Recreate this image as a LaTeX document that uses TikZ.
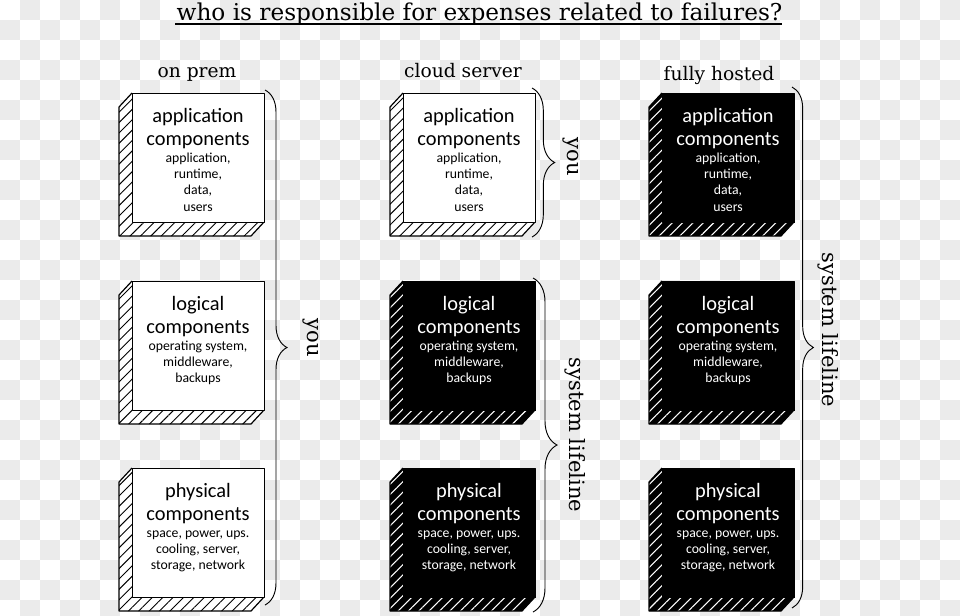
\documentclass[tikz,border=0pt]{standalone}
\usepackage{fontspec}
\newfontfamily\boxfont{Carlito}
\newfontfamily\handfont{DejaVu Serif}
\usetikzlibrary{patterns.meta,decorations.pathreplacing}
\definecolor{checker}{HTML}{EBEBEB}
\tikzset{
  outline/.style={draw=black, line width=0.9pt, line join=round},
  side light/.style={fill=white},
  side dark/.style={fill=black},
  hatch light/.style={pattern={Lines[angle=45,distance=5.5pt,line width=0.7pt]}, pattern color=black},
  hatch dark/.style={pattern={Lines[angle=45,distance=5.5pt,line width=0.8pt]}, pattern color=white},
  front light/.style={fill=white},
  front dark/.style={fill=black},
  txt light/.style={text=black},
  txt dark/.style={text=white},
  bigtxt/.style={font=\boxfont\fontsize{15.3}{18}\selectfont, inner sep=0pt, anchor=base},
  smalltxt/.style={font=\boxfont\fontsize{10.3}{12}\selectfont, inner sep=0pt, anchor=base},
  serifl/.style={font=\handfont\fontsize{14}{17}\selectfont, inner sep=0pt},
  seriftitle/.style={font=\handfont\fontsize{17.4}{20}\selectfont, inner sep=0pt},
  serifrot/.style={font=\handfont\fontsize{15.8}{19}\selectfont, inner sep=0pt, rotate=-90},
  bracestyle/.style={draw=black, line width=0.7pt, decorate, decoration={brace, amplitude=#1}},
}
\newcommand\compbox[6]{%
  \begin{scope}[shift={(#2,#3)}]
    \path[side #4] (0,0) -- (-13,14) -- (-13,143) -- (119,143) -- (132,129) -- (0,129) -- cycle;
    \path[hatch #4] (0,0) -- (-13,14) -- (-13,143) -- (119,143) -- (132,129) -- (0,129) -- cycle;
    \draw[outline] (0,0) -- (-13,14) -- (-13,143) -- (119,143) -- (132,129);
    \node[front #4, outline, minimum width=99pt, minimum height=96.75pt, inner sep=0pt, anchor=north west] (#1) at (0,0) {};
    \node[bigtxt, txt #4] (#1-h1) at (66,29) {#5};
    \node[bigtxt, txt #4] (#1-h2) at (66,52) {components};
    \foreach \t [count=\k] in {#6} {\node[smalltxt, txt #4] (#1-s\k) at (66,{69+16.4*(\k-1)}) {\t};}
  \end{scope}}
\begin{document}
\begin{tikzpicture}[x=0.75pt, y=-0.75pt]
  \useasboundingbox (0,0) rectangle (960,615);
  \begin{scope}
    \clip (0,0) rectangle (960,615);
    \fill[white] (0,0) rectangle (960,615);
    \foreach \i in {0,...,47}{\foreach \j in {0,...,30}{\ifodd\numexpr\i+\j\relax \fill[checker] (20*\i,20*\j) rectangle +(20,20);\fi}}
  \end{scope}

  % title
  \node[seriftitle, anchor=base] (title) at (479.5,20) {who is responsible for expenses related to failures?};
  \coordinate (ul1) at (175,24);
  \coordinate (ul2) at (782,24);
  \draw[line width=0.8pt] (ul1) -- (ul2);

  % column labels
  \node[serifl, anchor=base] (onprem) at (197,77) {on prem};
  \node[serifl, anchor=base] (cloud) at (463,77) {cloud server};
  \node[serifl, anchor=base] (hosted) at (719,80) {fully hosted};

  % column 1
  \compbox{a1}{132}{93}{light}{application}{{application,},{runtime,},{data,},users}
  \compbox{l1}{132}{281}{light}{logical}{{operating system,},{middleware,},backups}
  \compbox{p1}{132}{468}{light}{physical}{{space, power, ups.},{cooling, server,},{storage, network}}
  % column 2
  \compbox{a2}{403}{93}{light}{application}{{application,},{runtime,},{data,},users}
  \compbox{l2}{403}{281}{dark}{logical}{{operating system,},{middleware,},backups}
  \compbox{p2}{403}{468}{dark}{physical}{{space, power, ups.},{cooling, server,},{storage, network}}
  % column 3
  \compbox{a3}{662}{93}{dark}{application}{{application,},{runtime,},{data,},users}
  \compbox{l3}{662}{281}{dark}{logical}{{operating system,},{middleware,},backups}
  \compbox{p3}{662}{468}{dark}{physical}{{space, power, ups.},{cooling, server,},{storage, network}}

  % braces
  \coordinate (b1t) at (265,90);  \coordinate (b1b) at (265,605);
  \coordinate (b2t) at (532,88);  \coordinate (b2b) at (532,237);
  \coordinate (b3t) at (533,278); \coordinate (b3b) at (533,612);
  \coordinate (b4t) at (792,87);  \coordinate (b4b) at (792,608);
  \draw[bracestyle=16.5pt] (b1t) -- (b1b);
  \draw[bracestyle=17pt] (b2t) -- (b2b);
  \draw[bracestyle=18pt] (b3t) -- (b3b);
  \draw[bracestyle=16pt] (b4t) -- (b4b);

  \node[serifrot] (you1) at (311,338) {you};
  \node[serifrot] (you2) at (571,157) {you};
  \node[serifrot] (life2) at (575,435) {system lifeline};
  \node[serifrot] (life3) at (828,330) {system lifeline};
\end{tikzpicture}
\end{document}
